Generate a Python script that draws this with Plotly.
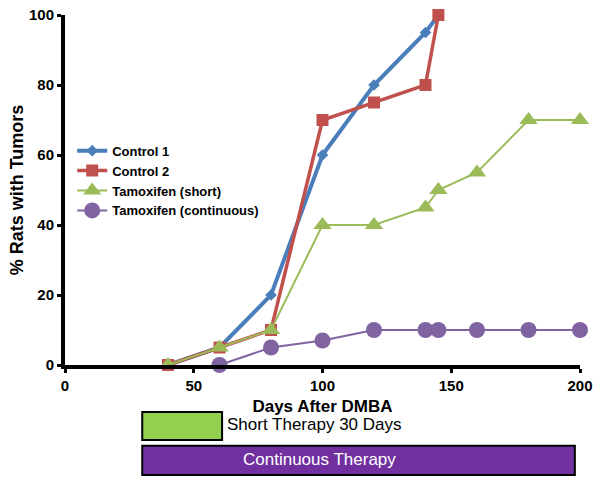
import plotly.graph_objects as go

days_c1 = [40, 60, 80, 100, 120, 140, 145]
ctrl1 = [0, 5, 20, 60, 80, 95, 100]
days_c2 = [40, 60, 80, 100, 120, 140, 145]
ctrl2 = [0, 5, 10, 70, 75, 80, 100]
days_ts = [40, 60, 80, 100, 120, 140, 145, 160, 180, 200]
tam_short = [0, 5, 10, 40, 40, 45, 50, 55, 70, 70]
days_tc = [60, 80, 100, 120, 140, 145, 160, 180, 200]
tam_cont = [0, 5, 7, 10, 10, 10, 10, 10, 10]

short_period = [30, 61]
cont_period = [30, 198]

FONT = "Liberation Sans, Arial, sans-serif"

fig = go.Figure()
fig.add_trace(go.Scatter(x=days_c1, y=ctrl1, name="Control 1", mode="lines+markers",
                         line=dict(color="#4a7ebb", width=4),
                         marker=dict(symbol="diamond", size=9, color="#4a7ebb"), cliponaxis=False))
fig.add_trace(go.Scatter(x=days_c2, y=ctrl2, name="Control 2", mode="lines+markers",
                         line=dict(color="#c0504d", width=3.5),
                         marker=dict(symbol="square", size=12, color="#c0504d"), cliponaxis=False))
fig.add_trace(go.Scatter(x=days_ts, y=tam_short, name="Tamoxifen (short)", mode="lines+markers",
                         line=dict(color="#9bbb59", width=2),
                         marker=dict(symbol="triangle-up", size=16, color="#9bbb59"), cliponaxis=False))
fig.add_trace(go.Scatter(x=days_tc, y=tam_cont, name="Tamoxifen (continuous)", mode="lines+markers",
                         line=dict(color="#8064a2", width=2),
                         marker=dict(symbol="circle", size=16, color="#8064a2"), cliponaxis=False))

# therapy bars
fig.add_shape(type="rect", xref="x", yref="paper", x0=short_period[0], x1=short_period[1],
              y0=-0.214, y1=-0.134, fillcolor="#92d050", line=dict(color="black", width=2))
fig.add_shape(type="rect", xref="x", yref="paper", x0=cont_period[0], x1=cont_period[1],
              y0=-0.314, y1=-0.231, fillcolor="#7030a0", line=dict(color="black", width=2))
fig.add_annotation(x=short_period[1] + 1, y=-0.169, xref="x", yref="paper", xanchor="left", yanchor="middle",
                   text="Short Therapy 30 Days", showarrow=False,
                   font=dict(family=FONT, size=17, color="black"))
fig.add_annotation(x=68.5, y=-0.271, xref="x", yref="paper",
                   xanchor="left", yanchor="middle",
                   text="Continuous Therapy", showarrow=False,
                   font=dict(family=FONT, size=17, color="white"))

fig.update_layout(
    width=601, height=484,
    margin=dict(l=65, r=21, t=15, b=119),
    paper_bgcolor="white", plot_bgcolor="white",
    font=dict(family=FONT, color="black"),
    showlegend=True,
    legend=dict(x=0.014, y=0.655, xanchor="left", yanchor="top",
                font=dict(family=FONT, size=13, color="black", weight="bold"),
                bgcolor="rgba(0,0,0,0)", tracegroupgap=0, itemwidth=30),
    xaxis=dict(range=[0, 200], tickvals=[0, 50, 100, 150, 200], showgrid=False, zeroline=False,
               showline=True, linecolor="black", linewidth=4, automargin=False,
               ticks="outside", ticklen=4, tickwidth=3, tickcolor="black",
               tickfont=dict(family=FONT, size=15, weight="bold"),
               title=dict(text="<b>Days After DMBA</b>", font=dict(family=FONT, size=17), standoff=8)),
    yaxis=dict(range=[0, 100], tickvals=[0, 20, 40, 60, 80, 100], showgrid=False, zeroline=False,
               showline=True, linecolor="black", linewidth=4, automargin=False,
               ticks="outside", ticklen=4, tickwidth=3, tickcolor="black",
               tickfont=dict(family=FONT, size=15, weight="bold"),
               title=dict(text="<b>% Rats with Tumors</b>", font=dict(family=FONT, size=18), standoff=2)),
)

fig.write_html("out.html", config={"displayModeBar": False},
               post_script="document.body.style.margin='0';")
